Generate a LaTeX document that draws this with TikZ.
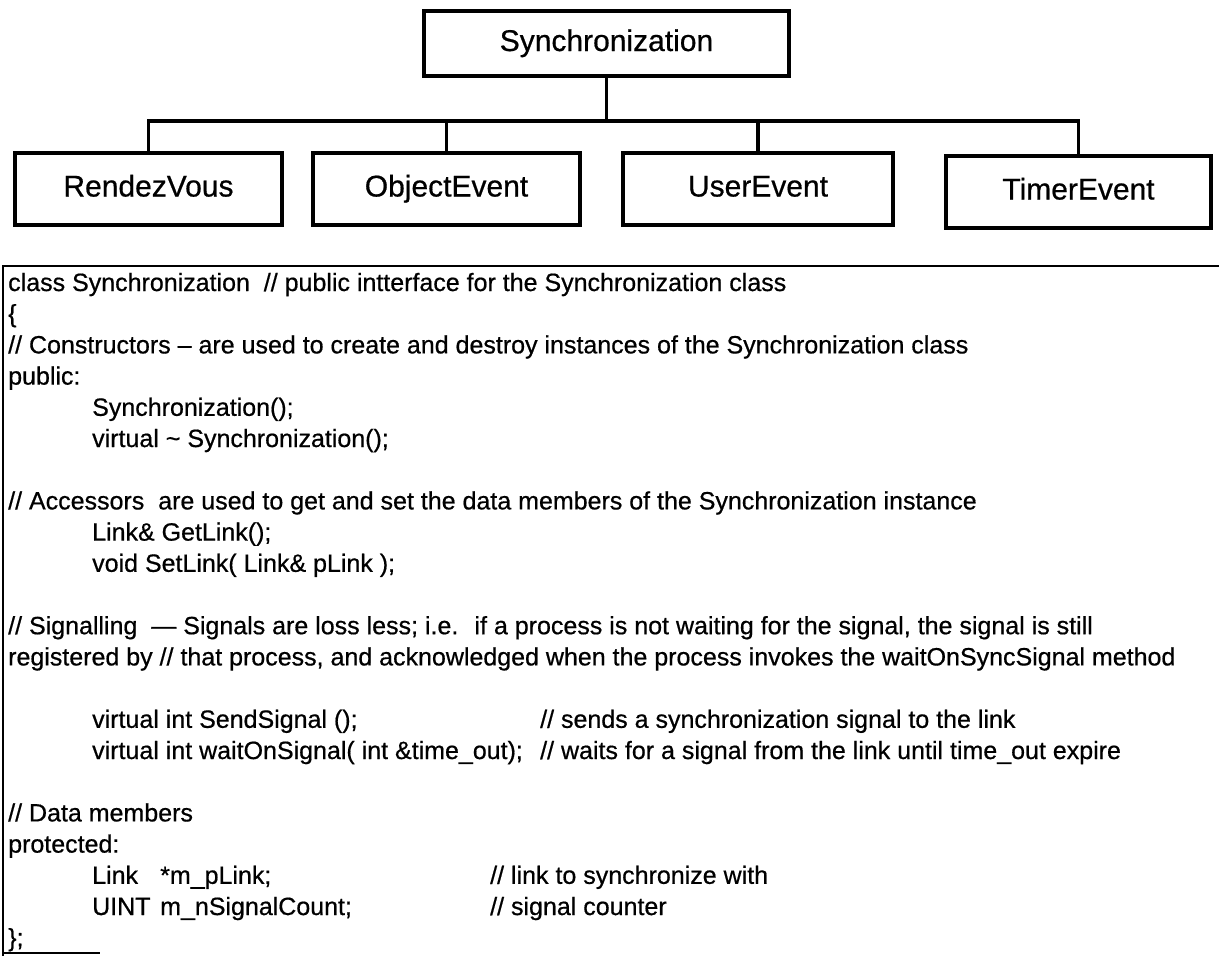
\documentclass[tikz,border=0pt]{standalone}
\usepackage{fontspec}
\setmainfont{Liberation Sans}
\begin{document}
\begin{tikzpicture}[x=1pt,y=-1pt,
  cls/.style={draw, line width=3.2pt, inner sep=0pt, text height=21pt, text depth=6pt,
    font=\fontsize{30}{36}\selectfont\addfontfeature{FakeBold=0.6}},
  wire/.style={line width=3.2pt},
  frame/.style={line width=2.2pt},
  code/.style={anchor=base west, inner sep=0pt,
    font=\fontsize{25}{30}\selectfont\addfontfeature{FakeBold=0.6}}]
\useasboundingbox (0,0) rectangle (1219,956);
\fill[white] (0,0) rectangle (1219,956);

% class hierarchy
\node[cls, minimum width=365pt, minimum height=65pt] (sync) at (606.5,43.5) {Synchronization};
\node[cls, minimum width=267pt, minimum height=72pt] (rv) at (148.5,189) {RendezVous};
\node[cls, minimum width=267pt, minimum height=72pt] (oe) at (446.5,189) {ObjectEvent};
\node[cls, minimum width=270pt, minimum height=72pt] (ue) at (758,189) {UserEvent};
\node[cls, minimum width=265pt, minimum height=72pt] (te) at (1078.5,192) {TimerEvent};
\coordinate (bus) at (606.5,121);
\draw[wire] (sync.south) -- (bus);
\draw[wire] (rv.north) -- (rv.north |- bus) -- (te.north |- bus) -- (te.north);
\draw[wire] (oe.north) -- (oe.north |- bus);
\draw[wire] (ue.north) -- (ue.north |- bus);

% code listing frame
\coordinate (ftl) at (3,266);
\coordinate (ftr) at (1219,266);
\coordinate (fbl) at (3,956);
\coordinate (fbs) at (100,953);
\draw[frame] (ftr) -- (ftl) -- (fbl);
\draw[line width=1.2pt] (fbl |- fbs) -- (fbs);

% code listing text
\def\ind{92}
\def\cA{540}
\def\cB{160}
\def\cC{490}
\def\ln#1{\fpeval{291+31.2*#1}}
\node[code] (l0) at (8,{\ln{0}}) {class Synchronization \ // public intterface for the Synchronization class};
\node[code] (l1) at (8,{\ln{1}}) {\{};
\node[code] (l2) at (8,{\ln{2}}) {// Constructors – are used to create and destroy instances of the Synchronization class};
\node[code] (l3) at (8,{\ln{3}}) {public:};
\node[code] (l4) at (\ind,{\ln{4}}) {Synchronization();};
\node[code] (l5) at (\ind,{\ln{5}}) {virtual \textasciitilde\ Synchronization();};
\node[code] (l7) at (8,{\ln{7}}) {// Accessors \ are used to get and set the data members of the Synchronization instance};
\node[code] (l8) at (\ind,{\ln{8}}) {Link\& GetLink();};
\node[code] (l9) at (\ind,{\ln{9}}) {void SetLink( Link\& pLink );};
\node[code] (l11) at (8,{\ln{11}}) {// Signalling \ — Signals are loss less; i.e. \ if a process is not waiting for the signal, the signal is still};
\node[code] (l12) at (8,{\ln{12}}) {registered by // that process, and acknowledged when the process invokes the waitOnSyncSignal method};
\node[code] (l14) at (\ind,{\ln{14}}) {virtual int SendSignal ();};
\node[code] (l14c) at (\cA,{\ln{14}}) {// sends a synchronization signal to the link};
\node[code] (l15) at (\ind,{\ln{15}}) {virtual int waitOnSignal( int \&time\_out);};
\node[code] (l15c) at (\cA,{\ln{15}}) {// waits for a signal from the link until time\_out expire};
\node[code] (l17) at (8,{\ln{17}}) {// Data members};
\node[code] (l18) at (8,{\ln{18}}) {protected:};
\node[code] (l19) at (\ind,{\ln{19}}) {Link};
\node[code] (l19b) at (\cB,{\ln{19}}) {*m\_pLink;};
\node[code] (l19c) at (\cC,{\ln{19}}) {// link to synchronize with};
\node[code] (l20) at (\ind,{\ln{20}}) {UINT};
\node[code] (l20b) at (\cB,{\ln{20}}) {m\_nSignalCount;};
\node[code] (l20c) at (\cC,{\ln{20}}) {// signal counter};
\node[code] (l21) at (8,{\ln{21}}) {\};};
\end{tikzpicture}
\end{document}
